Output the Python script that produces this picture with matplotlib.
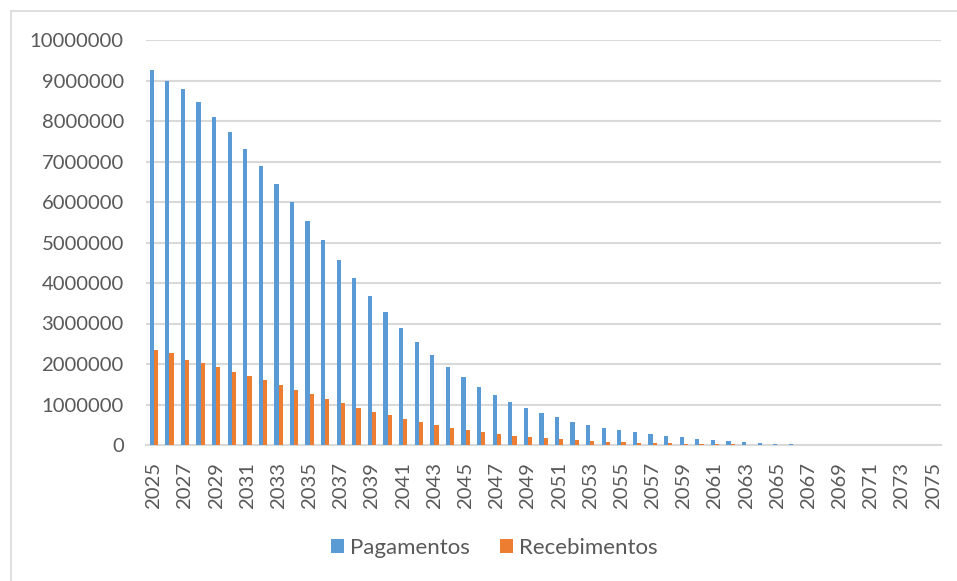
import matplotlib
matplotlib.use("Agg")
import matplotlib.pyplot as plt
from matplotlib.lines import Line2D
import numpy as np

years = list(range(2025, 2076))

# values
pagamentos = [
    9260000, 9000000, 8800000, 8460000, 8110000, 7730000, 7320000, 6900000,
    6450000, 5990000, 5520000, 5050000, 4580000, 4130000, 3690000, 3280000,
    2900000, 2550000, 2220000, 1930000, 1670000, 1440000, 1240000, 1060000,
    910000, 790000, 680000, 580000, 490000, 430000, 370000, 320000,
    270000, 230000, 190000, 160000, 120000, 100000, 70000, 50000,
    30000, 20000, 10000, 5000, 0, 0, 0, 0, 0, 0, 0,
]
recebimentos = [
    2340000, 2270000, 2100000, 2020000, 1920000, 1810000, 1710000, 1600000,
    1480000, 1370000, 1260000, 1140000, 1030000, 920000, 820000, 730000,
    640000, 560000, 490000, 430000, 360000, 310000, 270000, 230000,
    200000, 170000, 140000, 120000, 100000, 85000, 70000, 60000,
    50000, 40000, 30000, 25000, 20000, 15000, 10000, 8000,
    5000, 3000, 2000, 0, 0, 0, 0, 0, 0, 0, 0,
]

blue = "#5B9BD5"
orange = "#ED7D31"
grid_c = "#D9D9D9"
txt_c = "#595959"

plt.rcParams['font.family'] = ['Lato', 'DejaVu Sans']

fig = plt.figure(figsize=(9.57, 5.81), dpi=100)
ax = fig.add_axes([146 / 957, 1 - 445 / 581, (941 - 146) / 957, (445 - 40) / 581])

x = np.arange(len(years))
w = 0.27
ax.bar(x - w / 2, pagamentos, width=w, color=blue, label="Pagamentos", zorder=3)
ax.bar(x + w / 2, recebimentos, width=w, color=orange, label="Recebimentos", zorder=3)

ax.set_xlim(-0.5, len(years) - 0.5)
ax.set_ylim(0, 10000000)
ax.set_yticks(np.arange(0, 10000001, 1000000))
ax.set_yticklabels([str(v) for v in range(0, 10000001, 1000000)])
ax.set_xticks(x[::2])
ax.set_xticklabels([str(y) for y in years[::2]], rotation=90)

ax.grid(axis="y", color=grid_c, linewidth=1.5, zorder=0)
for s in ["left", "right", "top"]:
    ax.spines[s].set_visible(False)
ax.spines["bottom"].set_color(grid_c)
ax.spines["bottom"].set_linewidth(1.5)
ax.tick_params(axis="both", length=0, colors=txt_c, labelsize=14.6)
ax.tick_params(axis="y", pad=16)
ax.tick_params(axis="x", pad=12)

leg = fig.legend(loc="center", bbox_to_anchor=(494 / 957, 1 - 548 / 581), ncol=2,
                 frameon=False, fontsize=16, handlelength=0.6, handleheight=0.6,
                 handletextpad=0.25, columnspacing=1.35)
for t in leg.get_texts():
    t.set_color(txt_c)

# chart border (only left and top edges visible in the crop)
fig.add_artist(Line2D([10.5 / 957, 10.5 / 957], [0, 1 - 11 / 581], color=grid_c, linewidth=1.2))
fig.add_artist(Line2D([10.5 / 957, 1], [1 - 11 / 581, 1 - 11 / 581], color=grid_c, linewidth=1.2))

fig.savefig("out.png", dpi=100)
